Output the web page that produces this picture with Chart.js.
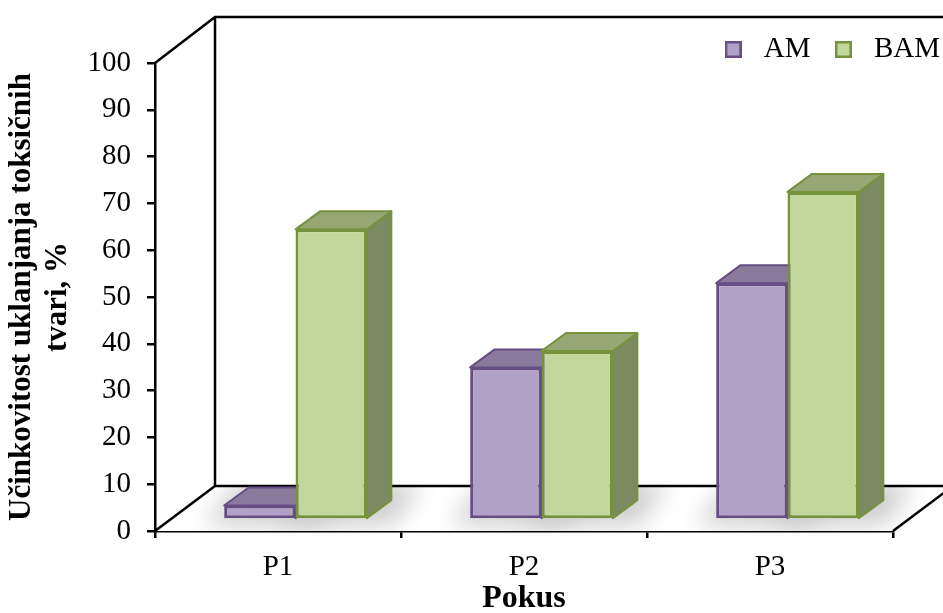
<!DOCTYPE html>
<html><head><meta charset="utf-8">
<style>html,body{margin:0;padding:0;background:#fff}#w{width:943px;height:613px;position:relative}</style>
<script src="https://cdn.jsdelivr.net/npm/chart.js@4/dist/chart.umd.min.js"></script>
</head><body><div id="w"><canvas id="c"></canvas></div>
<script>
const categories = ['P1','P2','P3'];
const seriesAM = [3, 32.5, 50.5];
const seriesBAM = [62, 36, 70];
const yTitle = ['Učinkovitost uklanjanja toksičnih','tvari, %'];
const xTitle = 'Pokus';
const FONT = '"Liberation Serif","Times New Roman",serif';
const WALL = {dx:60, dy:45};
const FRONT = {dx:17.5, dy:11.5};
const DEPTH = {dx:24.5, dy:18};
const SKIN = [
  {face:'#B2A1C7', edge:'#664E85', top:'#8A7B9D', side:'#7D6F90'},
  {face:'#C3D69B', edge:'#76923C', top:'#97A675', side:'#7C8A62'}
];
function swatch(s){
  const k=document.createElement('canvas');k.width=17;k.height=17;
  const x=k.getContext('2d');x.fillStyle=s.face;x.fillRect(0,0,17,17);
  x.strokeStyle=s.edge;x.lineWidth=2.5;x.strokeRect(1.25,1.25,14.5,14.5);return k;
}
function poly(ctx,pts,fill,stroke,lw){
  ctx.beginPath();pts.forEach((p,i)=>i?ctx.lineTo(p[0],p[1]):ctx.moveTo(p[0],p[1]));ctx.closePath();
  if(fill){ctx.fillStyle=fill;ctx.fill();}
  if(stroke){ctx.strokeStyle=stroke;ctx.lineWidth=lw||1;ctx.lineJoin='round';ctx.stroke();}
}
const box3d = {
  id:'box3d',
  beforeDraw(chart){
    const lg=chart.legend; if(lg){lg.left=600;lg.right=957;lg.top=18;}
  },
  beforeDatasetsDraw(chart){
    const ctx=chart.ctx,a=chart.chartArea,ys=chart.scales.y;
    const L=a.left,R=a.right,T=ys.getPixelForValue(100),B=ys.getPixelForValue(0);
    const w=chart.width;
    const floor=[[L,B],[L+WALL.dx,B-WALL.dy],[R+WALL.dx,B-WALL.dy],[R,B]];
    ctx.save();
    poly(ctx,floor,'#ffffff');
    ctx.save();
    poly(ctx,floor);ctx.clip();
    ctx.filter='blur(12px)';
    ctx.globalCompositeOperation='darken';
    chart.data.datasets.forEach((d,di)=>{
      chart.getDatasetMeta(di).data.forEach(el=>{
        const p=el.getProps(['x','width','base']);
        const l=p.x-p.width/2+FRONT.dx,r=p.x+p.width/2+FRONT.dx,b=p.base-FRONT.dy;
        poly(ctx,[[l-20,b+7],[l+DEPTH.dx-8,b-DEPTH.dy-18],[r+DEPTH.dx+30,b-DEPTH.dy-18],[r+26,b+7]],'#cdcdcd');
      });
    });
    ctx.restore();
    ctx.strokeStyle='#000';ctx.lineWidth=2.5;ctx.lineCap='butt';
    ctx.beginPath();
    ctx.moveTo(L,T);ctx.lineTo(L+WALL.dx,T-WALL.dy-1);ctx.lineTo(w,T-WALL.dy-1);
    ctx.moveTo(L+WALL.dx,T-WALL.dy-1);ctx.lineTo(L+WALL.dx,B-WALL.dy);ctx.lineTo(w,B-WALL.dy);
    ctx.moveTo(L,B);ctx.lineTo(L+WALL.dx,B-WALL.dy);
    ctx.moveTo(R,B);ctx.lineTo(R+WALL.dx,B-WALL.dy);
    ctx.stroke();
    chart.data.datasets.forEach((d,di)=>{
      const s=SKIN[di];
      chart.getDatasetMeta(di).data.forEach(el=>{
        const p=el.getProps(['x','y','width','base']);
        const l=p.x-p.width/2+FRONT.dx,r=p.x+p.width/2+FRONT.dx,t=p.y-FRONT.dy,b=p.base-FRONT.dy;
        const X=DEPTH.dx,Y=DEPTH.dy;
        poly(ctx,[[r,t],[r+X,t-Y],[r+X,b-Y],[r,b]],s.side,s.edge,2);
        poly(ctx,[[l,t],[l+X,t-Y],[r+X,t-Y],[r,t]],s.top,s.edge,2);
      });
    });
    ctx.restore();
    ctx.save();ctx.translate(FRONT.dx,-FRONT.dy);
  },
  afterDatasetsDraw(chart){chart.ctx.restore();}
};
new Chart(document.getElementById('c'),{
  type:'bar',
  data:{labels:categories,datasets:[
    {label:'AM',data:seriesAM,backgroundColor:SKIN[0].face,borderColor:SKIN[0].edge,borderWidth:3,borderSkipped:false,categoryPercentage:0.58,barPercentage:1,clip:false},
    {label:'BAM',data:seriesBAM,backgroundColor:SKIN[1].face,borderColor:SKIN[1].edge,borderWidth:3,borderSkipped:false,categoryPercentage:0.58,barPercentage:1,clip:false}
  ]},
  options:{
    responsive:true,maintainAspectRatio:false,animation:false,devicePixelRatio:1,
    layout:{padding:{left:0,right:50,top:7,bottom:0}},
    plugins:{
      tooltip:{enabled:false},
      legend:{display:true,position:'top',align:'end',
        labels:{color:'#000',font:{family:FONT,size:29},usePointStyle:true,pointStyleWidth:32,boxHeight:17,padding:17,
          generateLabels(chart){return chart.data.datasets.map((d,i)=>({text:d.label,pointStyle:swatch(SKIN[i]),datasetIndex:i,fontColor:'#000',lineWidth:0}));}}
      }
    },
    scales:{
      x:{
        afterFit(s){s.height=82;},
        grid:{display:true,drawOnChartArea:false,drawTicks:true,tickLength:7,color:'#000',lineWidth:2.5,offset:true},
        border:{display:true,color:'#000',width:2.5},
        ticks:{color:'#000',font:{family:FONT,size:29},padding:12,maxRotation:0},
        title:{display:true,text:xTitle,color:'#000',font:{family:FONT,size:32,weight:'bold',lineHeight:1},padding:{top:0,bottom:-2}}
      },
      y:{
        min:0,max:100,
        afterFit(s){s.width=155;},
        grid:{display:true,drawOnChartArea:false,drawTicks:true,tickLength:8,color:'#000',lineWidth:2.5},
        border:{display:true,color:'#000',width:2.5},
        ticks:{color:'#000',font:{family:FONT,size:29},padding:16,stepSize:10},
        title:{display:true,text:yTitle,color:'#000',font:{family:FONT,size:31,weight:'bold',lineHeight:1.16},padding:{top:4,bottom:0}}
      }
    }
  },
  plugins:[box3d]
});
</script></body></html>
